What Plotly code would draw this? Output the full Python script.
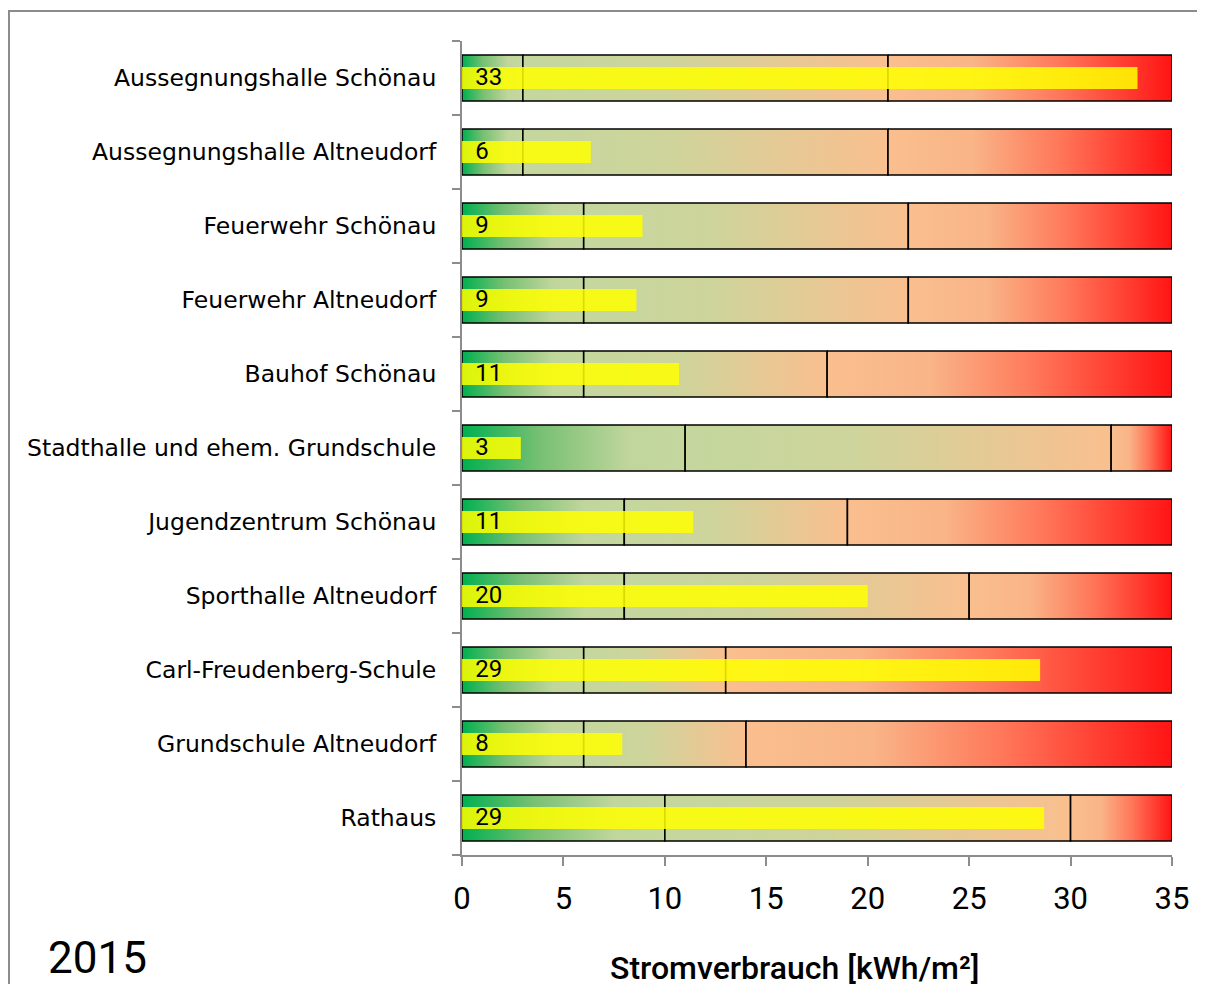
import plotly.graph_objects as go

categories = [
    "Aussegnungshalle Schönau",
    "Aussegnungshalle Altneudorf",
    "Feuerwehr Schönau",
    "Feuerwehr Altneudorf",
    "Bauhof Schönau",
    "Stadthalle und ehem. Grundschule",
    "Jugendzentrum Schönau",
    "Sporthalle Altneudorf",
    "Carl-Freudenberg-Schule",
    "Grundschule Altneudorf",
    "Rathaus",
]
values = [33.3, 6.35, 8.9, 8.6, 10.7, 2.9, 11.4, 20.0, 28.5, 7.9, 28.7]
labels = ["33", "6", "9", "9", "11", "3", "11", "20", "29", "8", "29"]
threshold_low = [3, 3, 6, 6, 6, 11, 8, 8, 6, 6, 10]
threshold_high = [21, 21, 22, 22, 18, 32, 19, 25, 13, 14, 30]
x_max = 35
x_ticks = [0, 5, 10, 15, 20, 25, 30, 35]

BG_H = 0.31   # half height of background bar (row units)
VAL_H = 0.15  # half height of value bar

scales = [
    [[0, "rgb(0,176,80)"], [0.35, "rgb(120,192,115)"], [0.75, "rgb(192,214,156)"], [1, "rgb(196,215,158)"]],
    [[0, "rgb(196,215,158)"], [0.4, "rgb(206,212,155)"], [1, "rgb(250,191,143)"]],
    [[0, "rgb(250,191,143)"], [0.3, "rgb(249,180,135)"], [0.6, "rgb(255,120,90)"], [1, "rgb(255,20,20)"]],
]

# page body has an 8px margin: figure occupies the viewport from (8, 8)
W, H = 1197, 976
L, R, T, B = 454, 33, 33, 129
PW, PH = W - L - R, H - T - B

def px_x(p):
    return (p - 8 - L) / PW

def px_y(p):
    return 1 - (p - 8 - T) / PH

fig = go.Figure()
for i, cat in enumerate(categories):
    bounds = [0, threshold_low[i], threshold_high[i], x_max]
    for s in range(3):
        a, b = bounds[s], bounds[s + 1]
        fig.add_trace(go.Scatter(
            x=[a, b, b, a, a],
            y=[i - BG_H, i - BG_H, i + BG_H, i + BG_H, i - BG_H],
            mode="lines", fill="toself",
            fillgradient=dict(type="horizontal", colorscale=scales[s]),
            line=dict(color="black", width=1.6),
            hoverinfo="skip", showlegend=False,
        ))

for i, v in enumerate(values):
    fig.add_trace(go.Scatter(
        x=[0, v, v, 0, 0],
        y=[i - VAL_H, i - VAL_H, i + VAL_H, i + VAL_H, i - VAL_H],
        mode="lines", fill="toself",
        fillcolor="rgba(255,255,0,0.86)",
        line=dict(width=0),
        hoverinfo="skip", showlegend=False,
    ))

fig.add_trace(go.Scatter(
    x=[0.65] * len(values), y=[i + 0.02 for i in range(len(values))],
    mode="text", text=labels, textposition="middle right",
    textfont=dict(family="Roboto, sans-serif", size=24, color="black"),
    hoverinfo="skip", showlegend=False,
))

fig.update_layout(
    width=W, height=H,
    margin=dict(l=L, r=R, t=T, b=B),
    paper_bgcolor="white", plot_bgcolor="white",
    font=dict(family="Roboto, sans-serif", color="black"),
    xaxis=dict(
        range=[0, x_max], tickvals=x_ticks, showgrid=False, zeroline=False,
        showline=True, linecolor="#8c8c8c", linewidth=2,
        ticks="outside", ticklen=9, tickcolor="#8c8c8c", tickwidth=2,
        ticklabelstandoff=6,
        tickfont=dict(family="Roboto, sans-serif", size=31, color="black"),
    ),
    yaxis=dict(
        range=[len(categories) - 0.5, -0.5],
        tickvals=list(range(len(categories))), ticktext=categories,
        showgrid=False, zeroline=False,
        showline=True, linecolor="#8c8c8c", linewidth=2,
        ticks="", ticklabelstandoff=19,
        minor=dict(tick0=0.5, dtick=1, ticks="outside", ticklen=8, tickcolor="#8c8c8c", tickwidth=2),
        tickfont=dict(family="DejaVu Sans, sans-serif", size=23.5, color="black"),
    ),
    shapes=[dict(type="rect", xref="paper", yref="paper",
                 x0=px_x(9), x1=1.2, y0=-0.3, y1=px_y(11),
                 line=dict(color="#8c8c8c", width=2), fillcolor="rgba(0,0,0,0)", layer="below")],
    annotations=[
        dict(text="2015", xref="paper", yref="paper",
             x=px_x(46), y=px_y(958), xanchor="left", yanchor="middle",
             showarrow=False, font=dict(family="Roboto, sans-serif", size=44, color="black")),
        dict(text="Stromverbrauch [kWh/m²]", xref="paper", yref="paper",
             x=px_x(795), y=px_y(968), xanchor="center", yanchor="middle",
             showarrow=False, font=dict(family="Roboto, sans-serif", size=32, weight=500, color="black")),
    ],
)

fig.write_html("out.html")
